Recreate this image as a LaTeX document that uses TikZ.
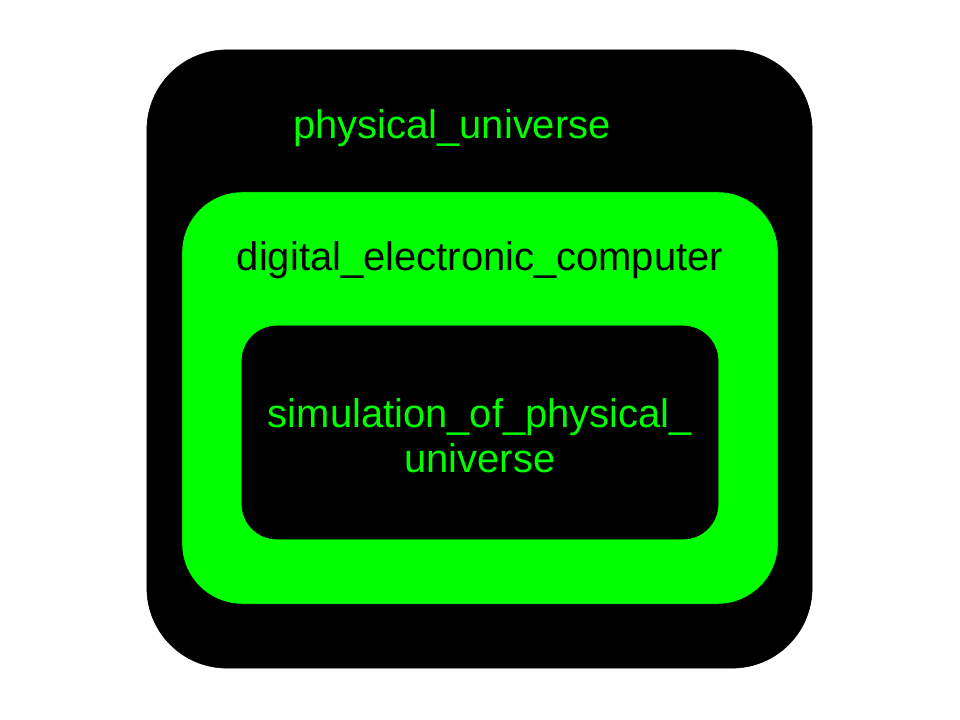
\documentclass[tikz,border=0pt]{standalone}
\usepackage{fontspec}
\setmainfont{Liberation Sans}
\usetikzlibrary{positioning}
\definecolor{brightgreen}{HTML}{00FF00}

\begin{document}
\begin{tikzpicture}[
    x=0.025cm, y=-0.025cm,
    outerbox/.style={draw=black, fill=black, minimum width=16.625cm, minimum height=15.45cm, rounded corners=2cm, inner sep=0pt},
    midbox/.style={draw=black, fill=brightgreen, minimum width=14.9cm, minimum height=10.3cm, rounded corners=1.5cm, inner sep=0pt},
    innerbox/.style={draw=black, fill=black, minimum width=11.9cm, minimum height=5.325cm, rounded corners=0.875cm, inner sep=0pt},
    label/.style={font=\fontsize{28.4}{32}\selectfont, align=center, inner sep=0pt}
]
    \useasboundingbox (0,0) rectangle (960,720);

    % Boxes
    \node[outerbox] (universe) at (479.5,359) {};
    \node[midbox] (computer) at (480,398) {};
    \node[innerbox] (simulation) at (480,432.5) {};

    % Labels
    \node[label, text=brightgreen] (universelbl) at (452,128) {physical\_universe};
    \node[label, text=black] (computerlbl) at (480,260) {digital\_electronic\_computer};
    \node[label, text=brightgreen] (simulationlbl) at (480,436) {simulation\_of\_physical\_\\universe};

\end{tikzpicture}
\end{document}
